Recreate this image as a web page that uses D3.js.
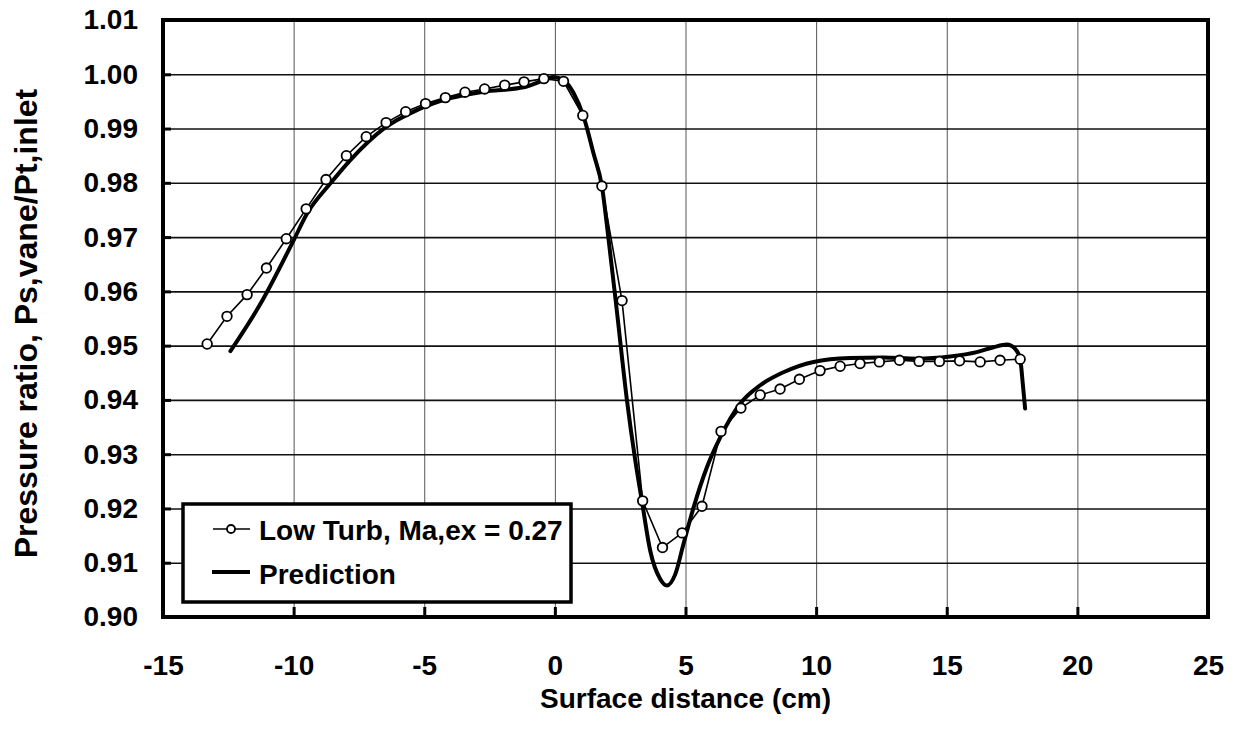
<!DOCTYPE html>
<html>
<head>
<meta charset="utf-8">
<script src="https://cdn.jsdelivr.net/npm/d3@7"></script>
<style>
  body { margin: 0; background: #fff; }
  svg text { font-family: "Liberation Sans", Arial, sans-serif; font-weight: bold; fill: #000; }
</style>
</head>
<body>
<div id="chart"></div>
<script>
// data
const xTicks = [-15, -10, -5, 0, 5, 10, 15, 20, 25];
const yTicks = [0.90, 0.91, 0.92, 0.93, 0.94, 0.95, 0.96, 0.97, 0.98, 0.99, 1.00, 1.01];

// measured points, Low Turb, Ma,ex = 0.27
const expX = [-13.31, -12.55, -11.78, -11.04, -10.28, -9.52, -8.76, -7.98, -7.22, -6.46, -5.71, -4.95,
  -4.19, -3.44, -2.69, -1.92, -1.18, -0.42, 0.33, 1.07, 1.80, 2.57, 3.36, 4.12, 4.87, 5.63, 6.36,
  7.12, 7.86, 8.62, 9.36, 10.15, 10.92, 11.68, 12.42, 13.19, 13.94, 14.72, 15.49, 16.28, 17.04, 17.81];
const expY = [0.9503, 0.9554, 0.9594, 0.9643, 0.9697, 0.9752, 0.9806, 0.9850, 0.9885, 0.9911, 0.9931, 0.9946,
  0.9957, 0.9967, 0.9973, 0.9980, 0.9986, 0.9992, 0.9987, 0.9924, 0.9794, 0.9583, 0.9214, 0.9128, 0.9155, 0.9204, 0.9342,
  0.9385, 0.9409, 0.9420, 0.9438, 0.9454, 0.9462, 0.9467, 0.9470, 0.9473, 0.9471, 0.9471, 0.9472, 0.9470, 0.9473, 0.9475];

// prediction curve
const predX = [-12.42, -11.27, -10.0, -9.49, -8.59, -7.83, -6.55, -5.28, -4.0, -2.73, -1.2, -0.43, -0.05, 0.33,
  0.72, 1.10, 1.48, 1.80, 2.06, 2.37, 2.76, 3.08, 3.33, 3.65, 4.03, 4.29, 4.61, 4.92, 5.31, 5.82, 6.33,
  7.09, 7.86, 8.75, 9.90, 11.30, 12.58, 13.86, 15.13, 16.15, 16.79, 17.30, 17.62, 17.81, 17.91, 18.0];
const predY = [0.9490, 0.9577, 0.9694, 0.9743, 0.9799, 0.9842, 0.9900, 0.9934, 0.9956, 0.9968, 0.9976, 0.9989, 0.9995, 0.9989,
  0.9965, 0.9922, 0.9854, 0.9794, 0.9694, 0.9565, 0.9399, 0.9288, 0.9214, 0.9122, 0.9070, 0.9058, 0.9079, 0.9134, 0.9202, 0.9276, 0.9331,
  0.9393, 0.9427, 0.9451, 0.9470, 0.9477, 0.9478, 0.9476, 0.9480, 0.9488, 0.9497, 0.9502, 0.9494, 0.9476, 0.9430, 0.9384];

const expLabel = "Low Turb, Ma,ex = 0.27";
const predLabel = "Prediction";

let width = 1234,
    height = 734,
    margin = {top: 20, right: 26, bottom: 117, left: 163},
    plotW = width - margin.left - margin.right,
    plotH = height - margin.top - margin.bottom;

let svg = d3.select('#chart')
  .append('svg')
  .attr('width', width)
  .attr('height', height);

let xScale = d3.scaleLinear().domain([-15, 25]).range([0, plotW]);
let yScale = d3.scaleLinear().domain([0.90, 1.01]).range([plotH, 0]);

let g = svg.append('g').attr('transform', `translate(${margin.left},${margin.top})`);

//#region grid
g.append('g')
  .attr('class', 'grid-x')
  .attr('transform', `translate(0,${plotH})`)
  .call(d3.axisBottom(xScale).tickValues(xTicks).tickSize(-plotH).tickFormat(''))
  .call(a => a.select('.domain').remove())
  .call(a => a.selectAll('line').attr('stroke', '#555').attr('stroke-width', 1));

g.append('g')
  .attr('class', 'grid-y')
  .call(d3.axisLeft(yScale).tickValues(yTicks).tickSize(-plotW).tickFormat(''))
  .call(a => a.select('.domain').remove())
  .call(a => a.selectAll('line').attr('stroke', '#111').attr('stroke-width', 1.6));
//#endregion

//#region inner tick marks
g.append('g')
  .attr('transform', `translate(0,${plotH})`)
  .call(d3.axisTop(xScale).tickValues(xTicks).tickSize(10).tickFormat(''))
  .call(a => a.select('.domain').remove())
  .call(a => a.selectAll('line').attr('stroke', '#000').attr('stroke-width', 3));

g.append('g')
  .call(d3.axisRight(yScale).tickValues(yTicks).tickSize(8).tickFormat(''))
  .call(a => a.select('.domain').remove())
  .call(a => a.selectAll('line').attr('stroke', '#000').attr('stroke-width', 3));
//#endregion

//#region tick labels
g.append('g')
  .attr('transform', `translate(0,${plotH})`)
  .call(d3.axisBottom(xScale).tickValues(xTicks).tickSize(0).tickPadding(38).tickFormat(d => String(d)))
  .call(a => a.select('.domain').remove())
  .call(a => a.selectAll('text').style('font-size', '28px').attr('fill', '#000'));

g.append('g')
  .call(d3.axisLeft(yScale).tickValues(yTicks).tickSize(0).tickPadding(25).tickFormat(d3.format('.2f')))
  .call(a => a.select('.domain').remove())
  .call(a => a.selectAll('text').style('font-size', '28px').attr('fill', '#000'));
//#endregion

//#region series
let predLine = d3.line()
  .x((d, i) => xScale(predX[i]))
  .y(d => yScale(d))
  .curve(d3.curveMonotoneX);

g.append('path')
  .datum(predY)
  .attr('d', predLine)
  .attr('fill', 'none')
  .attr('stroke', '#000')
  .attr('stroke-width', 4)
  .attr('stroke-linejoin', 'round')
  .attr('stroke-linecap', 'round');

let expLine = d3.line()
  .x((d, i) => xScale(expX[i]))
  .y(d => yScale(d));

g.append('path')
  .datum(expY)
  .attr('d', expLine)
  .attr('fill', 'none')
  .attr('stroke', '#000')
  .attr('stroke-width', 1.6);

g.selectAll('circle.exp')
  .data(expY)
  .enter()
  .append('circle')
  .attr('class', 'exp')
  .attr('cx', (d, i) => xScale(expX[i]))
  .attr('cy', d => yScale(d))
  .attr('r', 4.8)
  .attr('fill', '#fff')
  .attr('stroke', '#000')
  .attr('stroke-width', 1.8);
//#endregion

//#region frame
g.append('rect')
  .attr('width', plotW)
  .attr('height', plotH)
  .attr('fill', 'none')
  .attr('stroke', '#000')
  .attr('stroke-width', 4);
//#endregion

//#region legend
let legend = svg.append('g').attr('transform', 'translate(183,504)');
legend.append('rect')
  .attr('width', 388)
  .attr('height', 98)
  .attr('fill', '#fff')
  .attr('stroke', '#000')
  .attr('stroke-width', 3.5);

legend.append('line')
  .attr('x1', 30).attr('x2', 67).attr('y1', 25).attr('y2', 25)
  .attr('stroke', '#000').attr('stroke-width', 1.6);
legend.append('circle')
  .attr('cx', 48).attr('cy', 25).attr('r', 4)
  .attr('fill', '#fff').attr('stroke', '#000').attr('stroke-width', 1.8);
legend.append('text')
  .attr('x', 76).attr('y', 36)
  .style('font-size', '28px')
  .text(expLabel);

legend.append('line')
  .attr('x1', 29).attr('x2', 67).attr('y1', 68).attr('y2', 68)
  .attr('stroke', '#000').attr('stroke-width', 4);
legend.append('text')
  .attr('x', 76).attr('y', 80)
  .style('font-size', '28px')
  .text(predLabel);
//#endregion

//#region axis titles
svg.append('text')
  .attr('x', margin.left + plotW / 2)
  .attr('y', 708)
  .attr('text-anchor', 'middle')
  .style('font-size', '28px')
  .text('Surface distance (cm)');

svg.append('text')
  .attr('transform', `translate(37,${margin.top + plotH / 2 + 5}) rotate(-90)`)
  .attr('text-anchor', 'middle')
  .style('font-size', '32px')
  .text('Pressure ratio, Ps,vane/Pt,inlet');
//#endregion
</script>
</body>
</html>
